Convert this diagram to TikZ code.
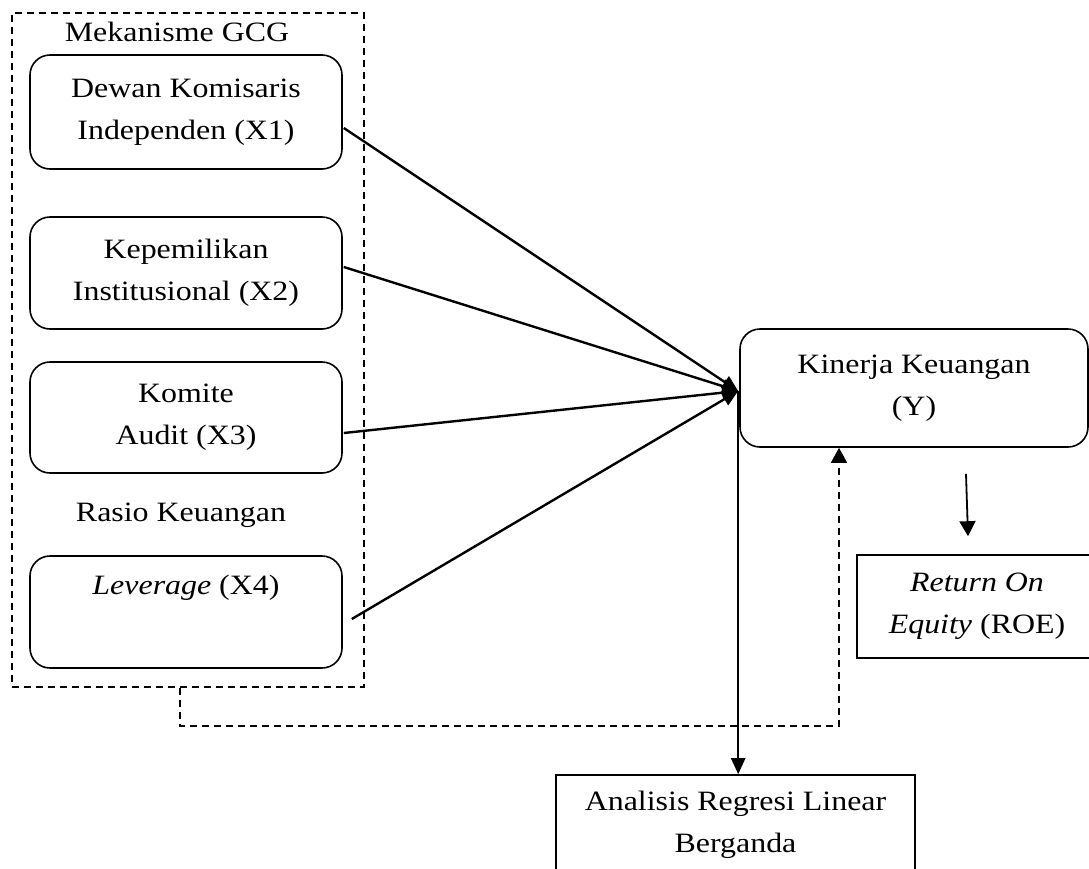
\documentclass[tikz,border=0pt]{standalone}
\usepackage{fontspec}
\setmainfont{Liberation Serif}[FakeStretch=1.14]
\usetikzlibrary{arrows.meta,calc}
\begin{document}
\begin{tikzpicture}[x=1pt,y=-1pt,
  every node/.style={font=\fontsize{28}{42}\selectfont, align=center, inner sep=0pt},
  rbox/.style={draw, line width=1.6pt, rounded corners=20pt, minimum width=312pt},
  sbox/.style={draw, line width=1.6pt},
  conn/.style={line width=2.4pt, -{Triangle[length=16pt,width=14pt]}},
  thinarr/.style={line width=1.8pt, -{Triangle[length=15pt,width=16pt]}},
  dashline/.style={line width=1.5pt, dash pattern=on 7pt off 5pt},
  lbl/.style={}]
\useasboundingbox (0,0) rectangle (1089,868);
% outer dashed group
\node[dashline, draw, minimum width=352pt, minimum height=674pt] (gcg) at (188,350) {};
\node[lbl] (t1) at (177,32) {Mekanisme GCG};
\node[lbl] (t2) at (181,515) {Rasio Keuangan};
% boxes
\node[rbox, minimum height=114pt] (b1) at (186,112) {Dewan Komisaris\\Independen (X1)};
\node[rbox, minimum height=112pt] (b2) at (186,273) {Kepemilikan\\Institusional (X2)};
\node[rbox, minimum height=111pt] (b3) at (186,417.5) {Komite\\Audit (X3)};
\node[rbox, minimum height=112pt] (b4) at (186,612) {\textit{Leverage} (X4)\\\strut};
\node[rbox, minimum width=348pt, minimum height=118pt] (kin) at (914,388) {Kinerja Keuangan\\(Y)};
\node[sbox, minimum width=240pt, minimum height=103pt] (roe) at (977,606.5) {\textit{Return On}\\\textit{Equity} (ROE)};
\node[sbox, minimum width=359pt, minimum height=100pt] (ana) at (735.5,825) {Analisis Regresi Linear\\Berganda};
% connectors
\coordinate (conv) at ([xshift=-1pt,yshift=-3pt]kin.west);
\draw[conn] ([xshift=1pt,yshift=-16pt]b1.east) -- (conv);
\draw[conn] ([xshift=1pt,yshift=6pt]b2.east) -- (conv);
\draw[conn] ([xshift=1pt,yshift=-15.5pt]b3.east) -- (conv);
\draw[conn] ([xshift=9pt,yshift=-7pt]b4.east) -- (conv);
\draw[conn] (conv) -- (conv |- ana.north);
\draw[dashline, -{Triangle[length=15pt,width=16pt]}] ([xshift=-8pt]gcg.south) -- ++(0,38) -| ([xshift=-75pt]kin.south);
\draw[thinarr] ([xshift=52pt,yshift=-26pt]kin.south) -- ([xshift=-9pt,yshift=18pt]roe.north);
\end{tikzpicture}
\end{document}
